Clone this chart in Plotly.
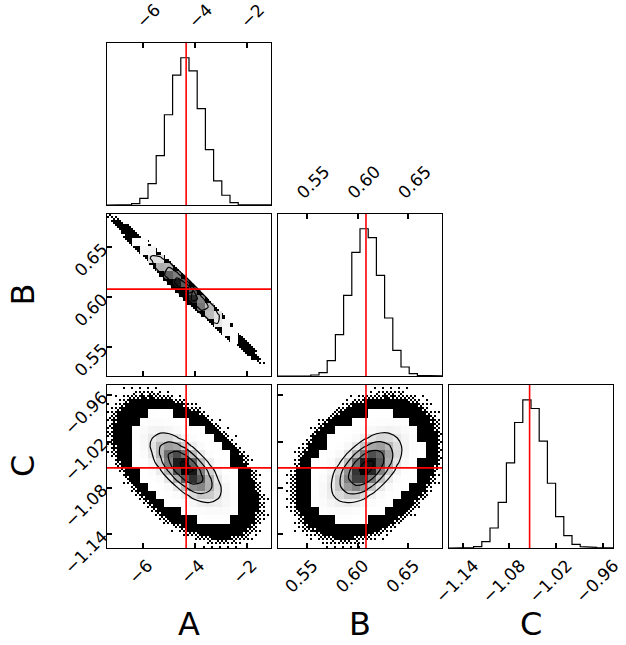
import numpy as np
import plotly.graph_objects as go

# ---------------- data ----------------
labels = ["A", "B", "C"]
truths = [-4.33, 0.6082, -1.054]
ranges = [[-7.37, -1.07], [0.5214, 0.6832], [-1.1576, -0.9468]]

# 1-D marginal histograms (20 bins each, relative counts)
hist_A = [0.3, 0.5, 1, 4, 20, 64, 147, 269, 387, 439, 400, 287, 165, 72, 29, 7, 1.5, 0.5, 0.3, 0.1]
hist_B = [0.1, 0.1, 0.3, 0.8, 3, 10, 46, 124, 242, 371, 442, 415, 302, 174, 77, 27, 7, 2, 0.5, 0.2]
hist_C = [0.3, 1, 1.5, 4, 19, 60, 137, 255, 376, 444, 418, 320, 194, 94, 37, 11, 4, 2, 1, 0.5]

# summary of the 2-D posterior
means = [-4.35, 0.6085, -1.054]
sigmas = [0.66, 0.0168, 0.0218]
corr_AB = -0.97
corr_AC = -0.68
corr_BC = 0.55
# the outer sample cloud is rounder than the core
tail_corr_AB = -0.987
tail_corr_AC = -0.50
tail_corr_BC = 0.30

ticks_A = [-6, -4, -2]
ticktext_A = ["−6", "−4", "−2"]
ticks_B = [0.55, 0.60, 0.65]
ticktext_B = ["0.55", "0.60", "0.65"]
ticks_C = [-1.14, -1.08, -1.02, -0.96]
ticktext_C = ["−1.14", "−1.08", "−1.02", "−0.96"]

# ---------------- layout helpers ----------------
W, H = 626, 645
cols_px = [(107, 271), (278, 442), (449, 613)]
rows_px = [(43, 205), (214, 376), (385, 548)]
FONT = "DejaVu Sans"
TICKFONT = dict(family=FONT, size=17, color="black")
BOTTOM_SHIFT = [5, 6, 11]     # centre rotated labels under their ticks
TOP_SHIFT = [-5, -9, -9]

hists = [hist_A, hist_B, hist_C]
ticks = [ticks_A, ticks_B, ticks_C]
ticktexts = [ticktext_A, ticktext_B, ticktext_C]
corr = {(0, 1): corr_AB, (0, 2): corr_AC, (1, 2): corr_BC}
tail_corr = {(0, 1): tail_corr_AB, (0, 2): tail_corr_AC, (1, 2): tail_corr_BC}

NB = 20
levels_q = 1.0 - np.exp(-0.5 * np.arange(0.5, 2.1, 0.5) ** 2)
R_WHITE = 3.2
R_SOLID = 4.1
R_MAX = 5.1
BAYER = np.array([[0, 32, 8, 40, 2, 34, 10, 42],
                  [48, 16, 56, 24, 50, 18, 58, 26],
                  [12, 44, 4, 36, 14, 46, 6, 38],
                  [60, 28, 52, 20, 62, 30, 54, 22],
                  [3, 35, 11, 43, 1, 33, 9, 41],
                  [51, 19, 59, 27, 49, 17, 57, 25],
                  [15, 47, 7, 39, 13, 45, 5, 37],
                  [63, 31, 55, 23, 61, 29, 53, 21]]) / 64.0

fig = go.Figure()
layout = dict(template="none", width=W, height=H,
              margin=dict(l=0, r=0, t=0, b=0, autoexpand=False),
              paper_bgcolor="white", plot_bgcolor="white", showlegend=False)
shapes = []
annotations = []


def nm(k):
    return "" if k == 1 else str(k)


def mahal2(X, Y, i, j, rho):
    dx = (X - means[i]) / sigmas[i]
    dy = (Y - means[j]) / sigmas[j]
    return (dx * dx - 2 * rho * dx * dy + dy * dy) / (1 - rho * rho)


def to_list(a):
    return [[None if not np.isfinite(v) else float(v) for v in row] for row in a]


k = 0
for row in range(3):
    for col in range(row + 1):
        k += 1
        xa, ya = "x" + nm(k), "y" + nm(k)
        xd = [cols_px[col][0] / W, cols_px[col][1] / W]
        yd = [1 - rows_px[row][1] / H, 1 - rows_px[row][0] / H]
        base = dict(showline=True, linecolor="black", linewidth=1, mirror=True,
                    showgrid=False, zeroline=False, ticks="inside", ticklen=5,
                    tickwidth=1.5, tickcolor="black", tickfont=TICKFONT,
                    automargin=False)
        xax = dict(base, domain=xd, anchor=ya, range=ranges[col],
                   tickvals=ticks[col], ticktext=ticktexts[col], tickangle=-45,
                   ticklabeloverflow="allow")
        if row == col:
            counts = np.array(hists[col], dtype=float)
            edges = np.linspace(ranges[col][0], ranges[col][1], NB + 1)
            xs = np.concatenate([[edges[0]], np.repeat(edges, 2)[1:-1], [edges[-1]]])
            ys = np.concatenate([[0], np.repeat(counts, 2), [0]])
            fig.add_trace(go.Scatter(x=xs, y=ys, mode="lines", xaxis=xa, yaxis=ya,
                                     line=dict(color="black", width=1.2),
                                     hoverinfo="skip"))
            yax = dict(domain=yd, anchor=xa, range=[0, 1.1 * counts.max()],
                       showline=True, linecolor="black", linewidth=1, mirror=True,
                       showgrid=False, zeroline=False, ticks="", showticklabels=False,
                       automargin=False)
            if row < 2:
                xax.update(side="top", showticklabels=True, ticklabelstandoff=4,
                           ticklabelshift=TOP_SHIFT[col])
            else:
                xax.update(side="bottom", showticklabels=True,
                           ticklabelshift=BOTTOM_SHIFT[col])
            shapes.append(dict(type="line", xref=xa, yref=ya + " domain",
                               x0=truths[col], x1=truths[col], y0=0, y1=1,
                               line=dict(color="red", width=1.6), layer="above"))
        else:
            i, j = col, row
            # fine grid for the sample scatter
            nf = 82
            fx = np.linspace(ranges[i][0], ranges[i][1], nf + 1)
            fy = np.linspace(ranges[j][0], ranges[j][1], nf + 1)
            fxc = 0.5 * (fx[1:] + fx[:-1])
            fyc = 0.5 * (fy[1:] + fy[:-1])
            FX, FY = np.meshgrid(fxc, fyc)
            r = np.sqrt(mahal2(FX, FY, i, j, tail_corr[(i, j)]))
            p = np.clip((R_MAX - r) / (R_MAX - R_SOLID), 0, 1) ** 2.5
            II, JJ = np.meshgrid(np.arange(nf), np.arange(nf))
            thr = BAYER[JJ % 8, II % 8] + 1 / 128
            dots = np.where(p > thr, 1.0, np.nan)
            fig.add_trace(go.Heatmap(x=fxc, y=fyc, z=to_list(dots), xaxis=xa, yaxis=ya,
                                     colorscale=[[0, "black"], [1, "black"]],
                                     showscale=False, hoverinfo="skip"))
            # 2-D histogram cells
            ex = np.linspace(ranges[i][0], ranges[i][1], NB + 1)
            ey = np.linspace(ranges[j][0], ranges[j][1], NB + 1)
            sub = (np.arange(8) + 0.5) / 8
            sx = (ex[:-1][:, None] + sub[None, :] * (ex[1] - ex[0])).ravel()
            sy = (ey[:-1][:, None] + sub[None, :] * (ey[1] - ey[0])).ravel()
            SX, SY = np.meshgrid(sx, sy)
            dens = np.exp(-0.5 * mahal2(SX, SY, i, j, corr[(i, j)]))
            Hc = dens.reshape(NB, 8, NB, 8).mean(axis=(1, 3))
            rt = np.sqrt(mahal2(SX, SY, i, j, tail_corr[(i, j)]))
            frac_in = (rt < R_WHITE).reshape(NB, 8, NB, 8).mean(axis=(1, 3))
            flat = np.sort(Hc.ravel())[::-1]
            cs = np.cumsum(flat) / flat.sum()

            def lev(q):
                return flat[min(np.searchsorted(cs, q), flat.size - 1)]

            V = [lev(q) for q in levels_q]
            h = Hc / Hc.max()
            zc = np.where(frac_in >= 0.3, h ** 1.2, np.nan)
            cx = 0.5 * (ex[1:] + ex[:-1])
            cy = 0.5 * (ey[1:] + ey[:-1])
            fig.add_trace(go.Heatmap(x=cx, y=cy, z=to_list(zc), xaxis=xa, yaxis=ya,
                                     colorscale=[[0, "white"], [1, "black"]],
                                     zmin=0, zmax=1, showscale=False, hoverinfo="skip"))
            for v in V:
                fig.add_trace(go.Contour(x=cx, y=cy, z=Hc.tolist(), xaxis=xa, yaxis=ya,
                                         autocontour=False,
                                         contours=dict(start=float(v), end=float(v), size=1.0,
                                                       coloring="none"),
                                         line=dict(color="black", width=1.2, smoothing=0.8),
                                         showscale=False, hoverinfo="skip"))
            yax = dict(base, domain=yd, anchor=xa, range=ranges[j],
                       tickvals=ticks[j], ticktext=ticktexts[j], tickangle=-45,
                       showticklabels=(col == 0))
            xax.update(side="bottom", showticklabels=(row == 2),
                       ticklabelshift=BOTTOM_SHIFT[col])
            shapes.append(dict(type="line", xref=xa, yref=ya + " domain",
                               x0=truths[i], x1=truths[i], y0=0, y1=1,
                               line=dict(color="red", width=1.6), layer="above"))
            shapes.append(dict(type="line", xref=xa + " domain", yref=ya,
                               x0=0, x1=1, y0=truths[j], y1=truths[j],
                               line=dict(color="red", width=1.6), layer="above"))
        layout["xaxis" + nm(k)] = xax
        layout["yaxis" + nm(k)] = yax

# axis labels
bottom_axes = ["x4", "x5", "x6"]
for c in range(3):
    annotations.append(dict(text=labels[c], xref=bottom_axes[c] + " domain", x=0.5,
                            yref="paper", y=0, showarrow=False,
                            xanchor="center", yanchor="bottom",
                            font=dict(family=FONT, size=32, color="black")))
for r_, ax_ in [(1, "y2"), (2, "y4")]:
    annotations.append(dict(text=labels[r_], xref="paper", x=22.5 / W,
                            yref=ax_ + " domain", y=0.5, showarrow=False, textangle=-90,
                            xanchor="center", yanchor="middle",
                            font=dict(family=FONT, size=32, color="black")))

layout["shapes"] = shapes
layout["annotations"] = annotations
fig.update_layout(**layout)
fig.write_html("out.html")
